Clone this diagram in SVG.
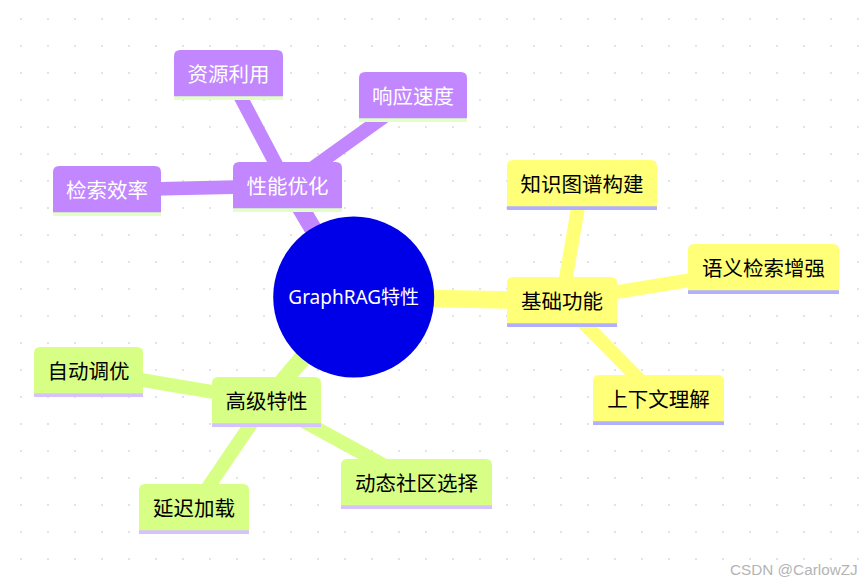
<svg xmlns="http://www.w3.org/2000/svg" width="861" height="585" viewBox="0 0 861 585">
<defs>
<pattern id="dots" patternUnits="userSpaceOnUse" x="20" y="18" width="27" height="27">
<rect x="0" y="0" width="2" height="2" fill="#e3e3e3"/>
</pattern>
</defs>
<style>
.t{font-family:"Noto Sans","Noto Sans CJK SC",sans-serif;font-size:20.5px;text-anchor:middle}
.s1 .b{fill:#ffff78}.s1 .l{stroke:#b0b0ff}.s1 text{fill:#000}
.s2 .b{fill:#d7ff86}.s2 .l{stroke:#d5c2ff}.s2 text{fill:#000}
.s3 .b{fill:#c286ff}.s3 .l{stroke:#e2ffc8}.s3 text{fill:#fff}
.l{stroke-width:3.75}
.e{fill:none;stroke-linecap:butt}
.d1{stroke-width:17.5}.d2{stroke-width:13.75}
.ey{stroke:#ffff78}.eg{stroke:#d7ff86}.ep{stroke:#c286ff}
</style>
<rect width="861" height="585" fill="#fff"/>
<rect width="861" height="585" fill="url(#dots)"/>
<g id="connectors">
<line class="e d1 ep" x1="353.7" y1="297" x2="287.5" y2="186"/>
<line class="e d1 ey" x1="353.7" y1="297" x2="562" y2="301"/>
<line class="e d1 eg" x1="353.7" y1="297" x2="266.5" y2="401"/>
<line class="e d2 ep" x1="287.5" y1="186" x2="228.5" y2="74"/>
<line class="e d2 ep" x1="287.5" y1="186" x2="413" y2="96"/>
<line class="e d2 ep" x1="287.5" y1="186" x2="107" y2="190"/>
<line class="e d2 ey" x1="562" y1="301" x2="582" y2="184"/>
<line class="e d2 ey" x1="562" y1="301" x2="763.5" y2="268"/>
<line class="e d2 ey" x1="562" y1="301" x2="658.5" y2="399"/>
<line class="e d2 eg" x1="266.5" y1="401" x2="88.5" y2="371"/>
<line class="e d2 eg" x1="266.5" y1="401" x2="194" y2="508"/>
<line class="e d2 eg" x1="266.5" y1="401" x2="416.5" y2="483"/>
</g>
<g id="root">
<circle cx="353.7" cy="297" r="80.5" fill="#0000e8"/>
<text class="t" x="353.7" y="304" fill="#fff" style="font-size:19px">GraphRAG特性</text>
</g>
<g id="n-perf" class="s3">
<path class="b" d="M233,210V168.25Q233,162 239.25,162H335.75Q342,162 342,168.25V210Z"/>
<line class="l" x1="233" y1="210" x2="342" y2="210"/>
<text class="t" x="287.5" y="193.5">性能优化</text>
</g>
<g id="n-res" class="s3">
<path class="b" d="M174,98V56.25Q174,50 180.25,50H276.75Q283,50 283,56.25V98Z"/>
<line class="l" x1="174" y1="98" x2="283" y2="98"/>
<text class="t" x="228.5" y="81.5">资源利用</text>
</g>
<g id="n-resp" class="s3">
<path class="b" d="M359,120V78.25Q359,72 365.25,72H460.75Q467,72 467,78.25V120Z"/>
<line class="l" x1="359" y1="120" x2="467" y2="120"/>
<text class="t" x="413" y="103.5">响应速度</text>
</g>
<g id="n-ret" class="s3">
<path class="b" d="M53,214V172.25Q53,166 59.25,166H154.75Q161,166 161,172.25V214Z"/>
<line class="l" x1="53" y1="214" x2="161" y2="214"/>
<text class="t" x="107" y="197.5">检索效率</text>
</g>
<g id="n-basic" class="s1">
<path class="b" d="M507,325V283.25Q507,277 513.25,277H610.75Q617,277 617,283.25V325Z"/>
<line class="l" x1="507" y1="325" x2="617" y2="325"/>
<text class="t" x="562" y="308.5">基础功能</text>
</g>
<g id="n-kg" class="s1">
<path class="b" d="M507,208V166.25Q507,160 513.25,160H650.75Q657,160 657,166.25V208Z"/>
<line class="l" x1="507" y1="208" x2="657" y2="208"/>
<text class="t" x="582" y="191.5">知识图谱构建</text>
</g>
<g id="n-sem" class="s1">
<path class="b" d="M688,292V250.25Q688,244 694.25,244H832.75Q839,244 839,250.25V292Z"/>
<line class="l" x1="688" y1="292" x2="839" y2="292"/>
<text class="t" x="763.5" y="275.5">语义检索增强</text>
</g>
<g id="n-ctx" class="s1">
<path class="b" d="M593,423V381.25Q593,375 599.25,375H717.75Q724,375 724,381.25V423Z"/>
<line class="l" x1="593" y1="423" x2="724" y2="423"/>
<text class="t" x="658.5" y="406.5">上下文理解</text>
</g>
<g id="n-adv" class="s2">
<path class="b" d="M212,425V383.25Q212,377 218.25,377H314.75Q321,377 321,383.25V425Z"/>
<line class="l" x1="212" y1="425" x2="321" y2="425"/>
<text class="t" x="266.5" y="408.5">高级特性</text>
</g>
<g id="n-auto" class="s2">
<path class="b" d="M34,395V353.25Q34,347 40.25,347H136.75Q143,347 143,353.25V395Z"/>
<line class="l" x1="34" y1="395" x2="143" y2="395"/>
<text class="t" x="88.5" y="378.5">自动调优</text>
</g>
<g id="n-lazy" class="s2">
<path class="b" d="M139,532V490.25Q139,484 145.25,484H242.75Q249,484 249,490.25V532Z"/>
<line class="l" x1="139" y1="532" x2="249" y2="532"/>
<text class="t" x="194" y="515.5">延迟加载</text>
</g>
<g id="n-comm" class="s2">
<path class="b" d="M341,507V465.25Q341,459 347.25,459H485.75Q492,459 492,465.25V507Z"/>
<line class="l" x1="341" y1="507" x2="492" y2="507"/>
<text class="t" x="416.5" y="490.5">动态社区选择</text>
</g>
<text x="730" y="575" style="font-family:'Liberation Sans',Arial,sans-serif;font-size:15.3px;fill:#b4b4b4">CSDN @CarlowZJ</text>
</svg>
